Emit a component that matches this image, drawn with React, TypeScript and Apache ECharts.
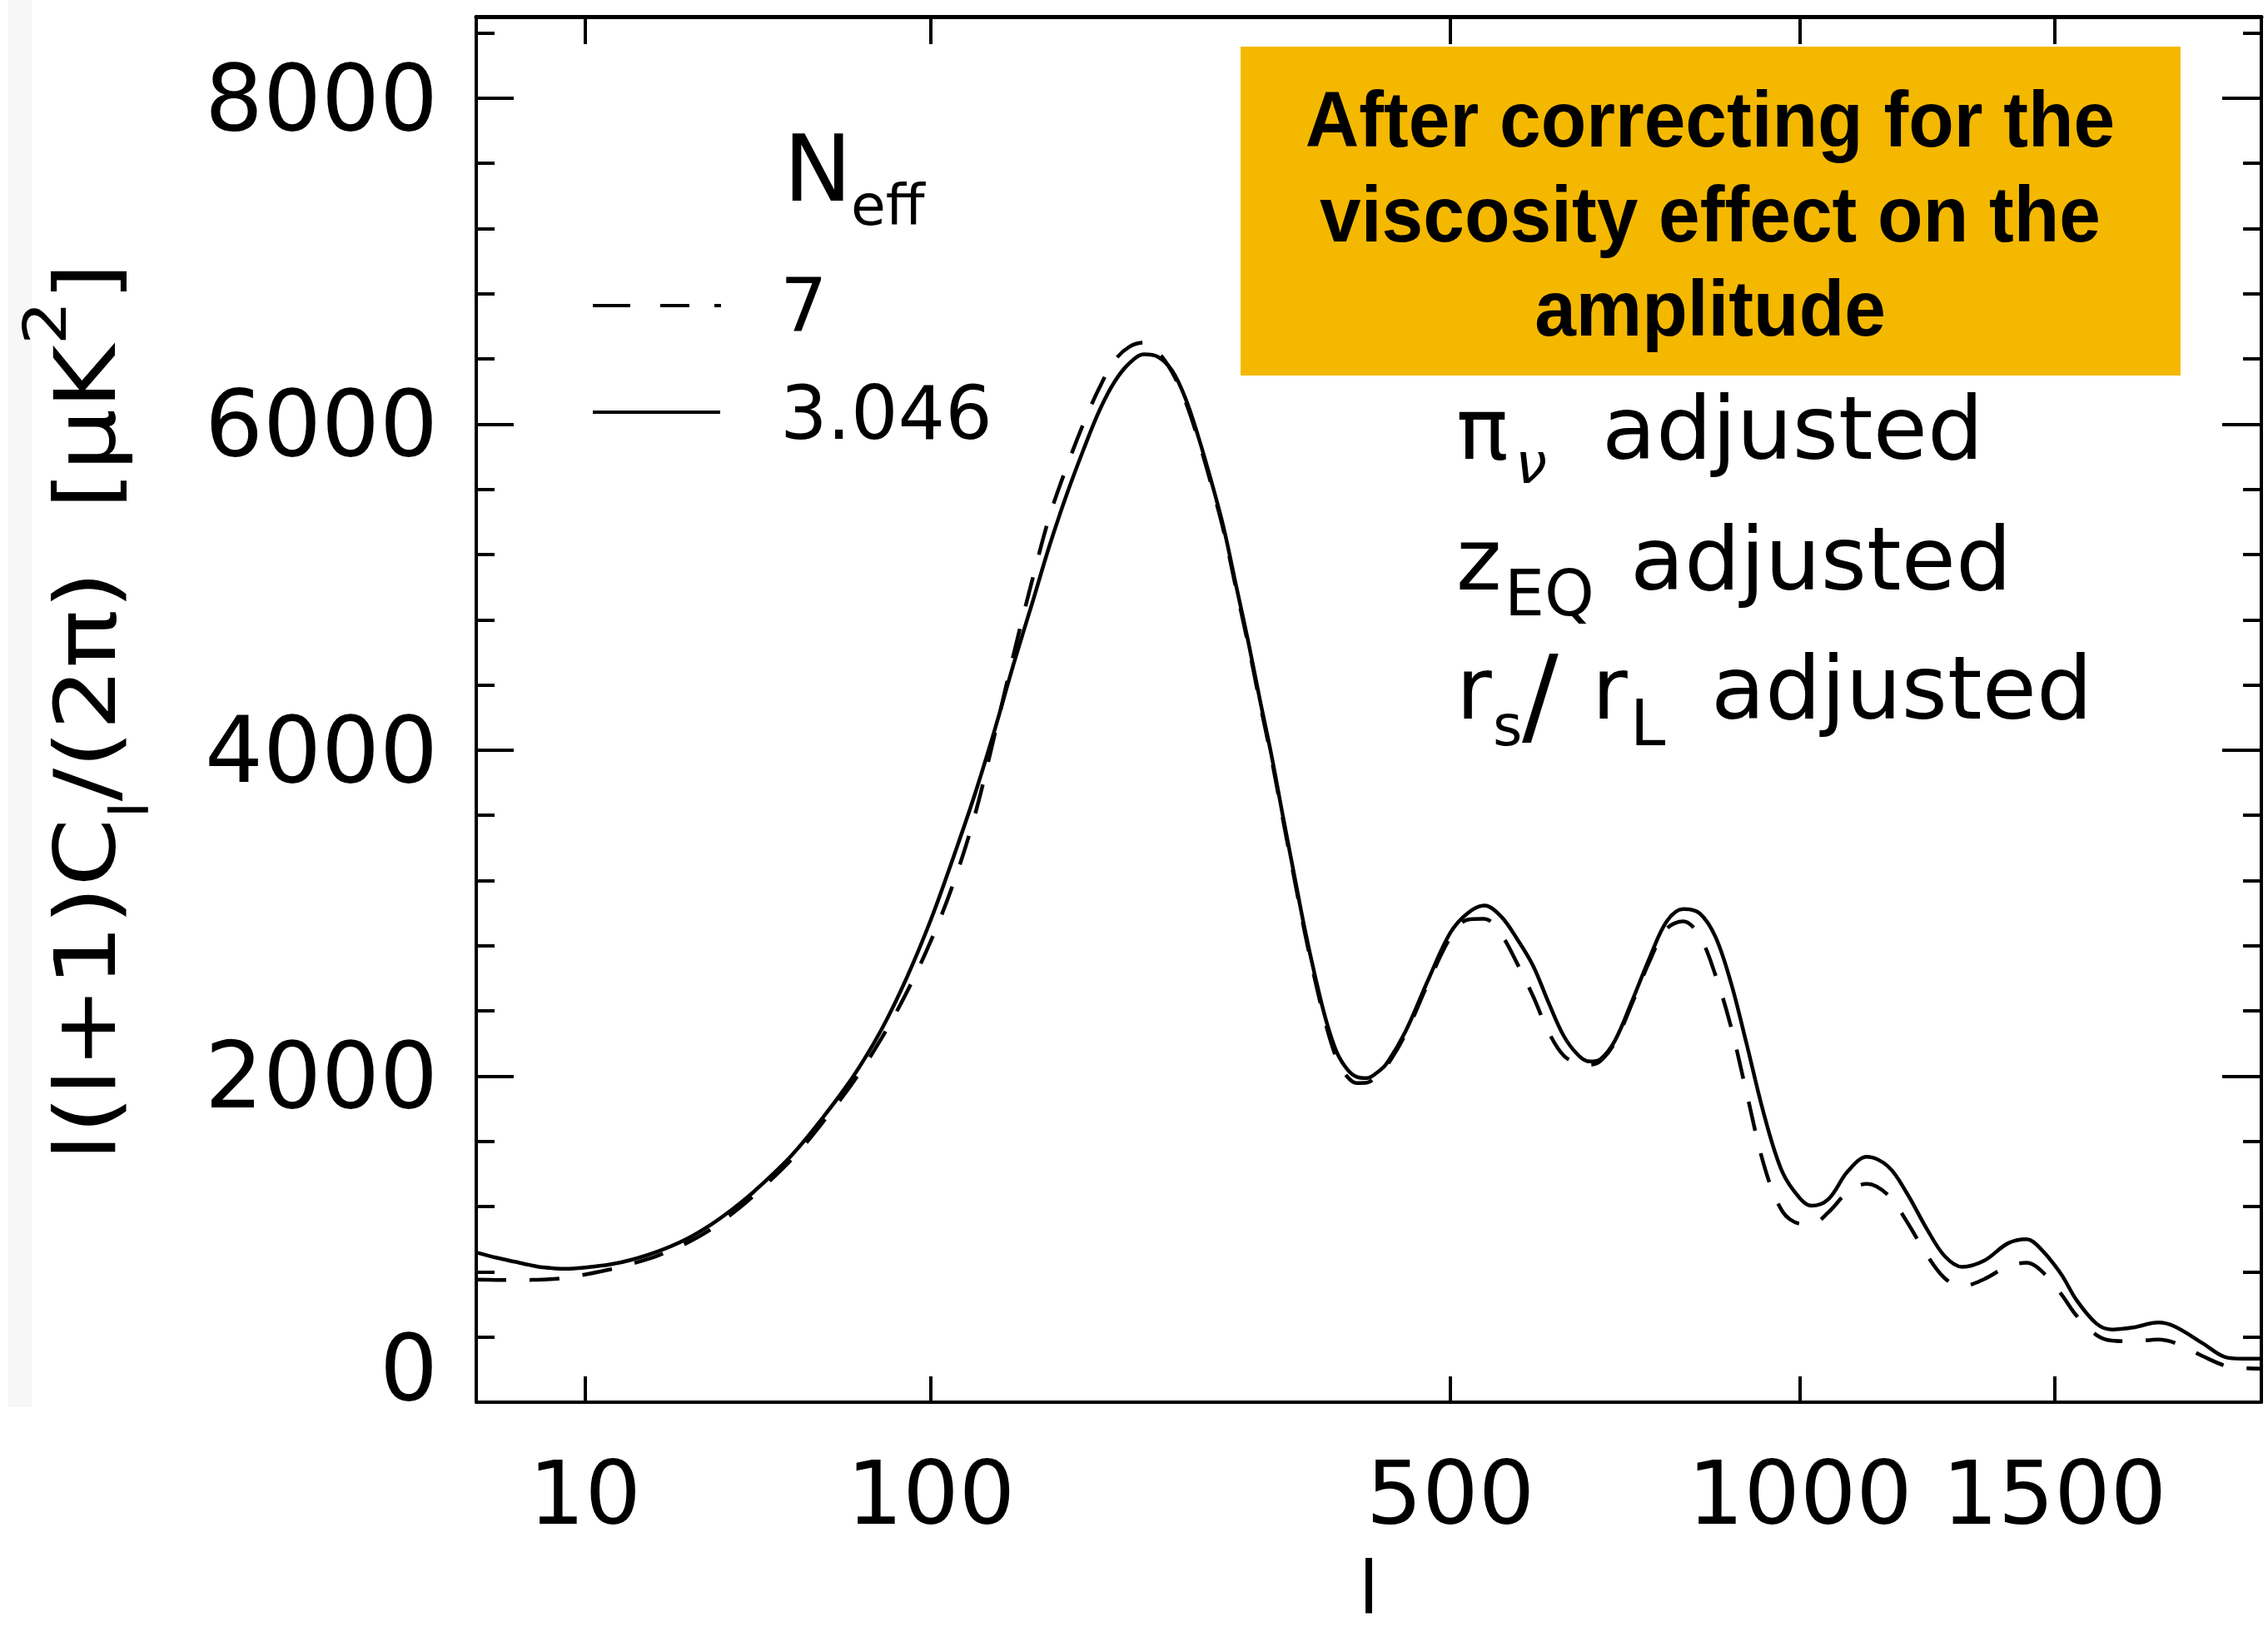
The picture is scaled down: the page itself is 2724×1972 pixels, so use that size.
import React, { useEffect, useRef } from "react";
import * as echarts from "echarts";

// multipole l sampled along the curves
const ELL = [2, 3, 4, 5, 6, 8, 10, 13, 16, 20, 25, 30, 35, 40, 50, 60, 70, 80, 90, 100, 110, 120, 130, 140, 150, 160, 170, 180, 190, 200, 210, 220, 230, 240, 250, 260, 270, 280, 290, 300, 310, 320, 330, 340, 350, 360, 370, 380, 390, 400, 410, 420, 430, 450, 475, 500, 520, 540, 560, 580, 600, 620, 640, 660, 675, 690, 710, 735, 760, 785, 810, 835, 860, 885, 910, 940, 970, 1000, 1020, 1050, 1085, 1120, 1160, 1195, 1235, 1270, 1305, 1350, 1400, 1440, 1470, 1515, 1550, 1595, 1630, 1680, 1740, 1780, 1850, 1905, 1950, 2000];

// N_eff = 3.046 (solid)
const CL_NEFF_3046 = [919, 885, 862, 842, 828, 818, 826, 845, 875, 925, 1000, 1090, 1190, 1295, 1515, 1760, 2010, 2290, 2610, 2960, 3340, 3720, 4120, 4530, 4900, 5260, 5570, 5840, 6080, 6260, 6375, 6428, 6412, 6330, 6160, 5920, 5650, 5360, 5010, 4670, 4310, 3970, 3600, 3245, 2900, 2600, 2340, 2150, 2045, 1995, 1988, 2020, 2075, 2270, 2590, 2880, 3000, 3047, 2980, 2840, 2677, 2450, 2245, 2125, 2090, 2106, 2220, 2470, 2730, 2950, 3025, 3000, 2855, 2570, 2200, 1750, 1410, 1250, 1205, 1246, 1417, 1505, 1445, 1285, 1059, 895, 830, 868, 975, 1000, 942, 787, 625, 482, 446, 458, 489, 465, 361, 278, 267, 267];

// N_eff = 7 (dashed)
const CL_NEFF_7 = [752, 750, 749, 750, 752, 762, 783, 815, 850, 900, 975, 1062, 1165, 1272, 1490, 1732, 1975, 2235, 2520, 2830, 3180, 3590, 4090, 4590, 5040, 5440, 5740, 6000, 6220, 6390, 6475, 6500, 6440, 6320, 6140, 5900, 5630, 5340, 4990, 4650, 4290, 3950, 3580, 3225, 2880, 2575, 2310, 2110, 2000, 1958, 1960, 2000, 2060, 2255, 2570, 2850, 2960, 2965, 2870, 2690, 2490, 2270, 2125, 2078, 2070, 2095, 2210, 2455, 2710, 2905, 2950, 2860, 2620, 2300, 1900, 1440, 1170, 1095, 1092, 1165, 1290, 1340, 1270, 1110, 900, 760, 712, 755, 835, 855, 810, 665, 530, 412, 378, 373, 385, 365, 282, 225, 210, 205];

const X_TICK_LABELS = [10, 100, 500, 1000, 1500];
const Y_MAJOR_TICKS = [0, 2000, 4000, 6000, 8000];
const Y_MINOR_TICKS = [0, 400, 800, 1200, 1600, 2000, 2400, 2800, 3200, 3600, 4000, 4400, 4800, 5200, 5600, 6000, 6400, 6800, 7200, 7600, 8000, 8400];
const L_MIN = 2;
const L_MAX = 2000;
const Y_MIN = 0;
const Y_MAX = 8500;
const POW = 0.4;

const fwd = (l: number) => Math.pow(l, POW);
const inv = (u: number) => Math.pow(u, 1 / POW);

const FONT = "'DejaVu Sans', sans-serif";
const BOLD_FONT = "'Liberation Sans', Arial, sans-serif";

function txt(text: string, x: number, y: number, fs: number, extra: any = {}) {
  const { align = "left", italic = false, family = FONT, weight = "normal", scaleX = 1, rotation = 0 } = extra;
  return {
    type: "text",
    x,
    y,
    scaleX,
    rotation,
    z: 10,
    style: {
      text,
      fontSize: fs,
      fontFamily: family,
      fontWeight: weight,
      fontStyle: italic ? "italic" : "normal",
      fill: "#000",
      align,
      textAlign: align,
      verticalAlign: "middle",
      textVerticalAlign: "middle",
    },
  };
}

// baseline -> center for DejaVu (central baseline ~0.346 em above alphabetic)
const cb = (base: number, fs: number) => base - 0.346 * fs;

export default function App() {
  const ref = useRef<HTMLDivElement>(null);
  useEffect(() => {
    document.body.style.margin = "0";
    if (!ref.current) return;
    const chart = echarts.init(ref.current, undefined, { renderer: "svg" });
    const xMin = fwd(L_MIN);
    const xMax = fwd(L_MAX);
    const xTicks = X_TICK_LABELS.map(fwd);
    const black = "#000";

    const baseX = (position: string, len: number, lw: number, labels: boolean) => ({
      type: "value",
      position,
      min: xMin,
      max: xMax,
      axisLine: { show: true, onZero: false, lineStyle: { color: black, width: lw } },
      axisTick: { show: true, inside: true, length: len, lineStyle: { color: black, width: 4 }, customValues: xTicks },
      axisLabel: labels
        ? {
            show: true,
            customValues: xTicks,
            formatter: (v: number) => String(Math.round(inv(v))),
            fontSize: 106,
            fontFamily: FONT,
            color: black,
            margin: 56,
          }
        : { show: false },
      splitLine: { show: false },
    });

    const baseY = (position: string, len: number, ticks: number[], line: boolean, labels: boolean) => ({
      type: "value",
      position,
      min: Y_MIN,
      max: Y_MAX,
      axisLine: { show: line, onZero: false, lineStyle: { color: black, width: 4 } },
      axisTick: { show: true, inside: true, length: len, lineStyle: { color: black, width: 4 }, customValues: ticks },
      axisLabel: labels
        ? {
            show: true,
            customValues: Y_MAJOR_TICKS.filter((v) => v > 0),
            formatter: (v: number) => String(Math.round(v)),
            fontSize: 110,
            fontFamily: FONT,
            color: black,
            margin: 46,
          }
        : { show: false },
      splitLine: { show: false },
    });

    const legendY7 = 367;
    const legendY3 = 495;

    const graphic: any[] = [
      { type: "rect", shape: { x: 10, y: 0, width: 28, height: 1690 }, style: { fill: "#f7f7f7" }, z: 0 },
      // legend samples
      { type: "line", shape: { x1: 712, y1: legendY7, x2: 757, y2: legendY7 }, style: { stroke: black, lineWidth: 4 } },
      { type: "line", shape: { x1: 793, y1: legendY7, x2: 828, y2: legendY7 }, style: { stroke: black, lineWidth: 4 } },
      { type: "line", shape: { x1: 858, y1: legendY7, x2: 866, y2: legendY7 }, style: { stroke: black, lineWidth: 4 } },
      { type: "line", shape: { x1: 712, y1: legendY3, x2: 865, y2: legendY3 }, style: { stroke: black, lineWidth: 4 } },
      txt("N", 941, cb(241, 110), 110),
      txt("eff", 1022, cb(270, 68), 68),
      txt("7", 937, legendY7, 89),
      txt("3.046", 937, legendY3 + 1, 89),
      // annotations
      txt("π", 1749, cb(551, 104), 104),
      txt("ν", 1820, cb(580, 68), 68, { italic: true }),
      txt("adjusted", 1924, cb(551, 106), 106),
      txt("z", 1749, cb(708, 104), 104),
      txt("EQ", 1807, cb(739, 76), 76),
      txt("adjusted", 1958, cb(708, 106), 106),
      txt("r", 1749, cb(863, 104), 104),
      txt("s", 1793, cb(895, 68), 68),
      txt("/", 1828, cb(880, 130), 130),
      txt("r", 1912, cb(863, 104), 104),
      txt("L", 1958, cb(895, 76), 76),
      txt("adjusted", 2055, cb(863, 106), 106),
      // y label "0"
      txt("0", 526, 1643, 110, { align: "right" }),
      // x-axis title
      txt("l", 1644, 1906, 88, { align: "center" }),
      // y-axis title
      {
        type: "text",
        x: 103,
        y: 855,
        rotation: Math.PI / 2,
        scaleX: 1.15,
        z: 10,
        style: {
          text: "{a|l(l+1)C}{sub|l}{a|/(2π)  [μK}{sup|2}{a|]}",
          fontFamily: FONT,
          fill: black,
          align: "center",
          verticalAlign: "middle",
          rich: {
            a: { fontSize: 102, fontFamily: FONT, fill: black, lineHeight: 170 },
            sub: { fontSize: 64, fontFamily: FONT, fill: black, lineHeight: 135, verticalAlign: "bottom" },
            sup: { fontSize: 72, fontFamily: FONT, fill: black, lineHeight: 72, verticalAlign: "top" },
          },
        },
      },
      // highlighted box
      { type: "rect", shape: { x: 1490, y: 56, width: 1129, height: 395 }, style: { fill: "#F5B800" }, z: 5 },
      txt("After correcting for the", 2054, 143, 94, { align: "center", family: BOLD_FONT, weight: "bold", scaleX: 0.95 }),
      txt("viscosity effect on the", 2054, 257, 94, { align: "center", family: BOLD_FONT, weight: "bold", scaleX: 0.95 }),
      txt("amplitude", 2054, 370, 94, { align: "center", family: BOLD_FONT, weight: "bold", scaleX: 0.95 }),
    ];

    const option: any = {
      animation: false,
      backgroundColor: "#fff",
      grid: { left: 572, right: 8, top: 20, bottom: 288, containLabel: false },
      xAxis: [baseX("bottom", 31, 4, true), baseX("top", 33, 5, false)],
      yAxis: [
        baseY("left", 22, Y_MINOR_TICKS, true, false),
        baseY("left", 45, Y_MAJOR_TICKS, false, true),
        baseY("right", 22, Y_MINOR_TICKS, true, false),
        baseY("right", 47, Y_MAJOR_TICKS, false, false),
      ],
      series: [
        {
          name: "3.046",
          type: "line",
          xAxisIndex: 0,
          yAxisIndex: 0,
          data: ELL.map((l, i) => [fwd(l), CL_NEFF_3046[i]]),
          symbol: "none",
          showSymbol: false,
          smooth: 0.35,
          clip: true,
          lineStyle: { color: black, width: 4.5 },
        },
        {
          name: "7",
          type: "line",
          xAxisIndex: 0,
          yAxisIndex: 0,
          data: ELL.map((l, i) => [fwd(l), CL_NEFF_7[i]]),
          symbol: "none",
          showSymbol: false,
          smooth: 0.35,
          clip: true,
          lineStyle: { color: black, width: 4.5, type: [36, 28] },
        },
      ],
      graphic,
    };
    chart.setOption(option);
    return () => chart.dispose();
  }, []);
  return <div ref={ref} style={{ width: 2724, height: 1972 }} />;
}
